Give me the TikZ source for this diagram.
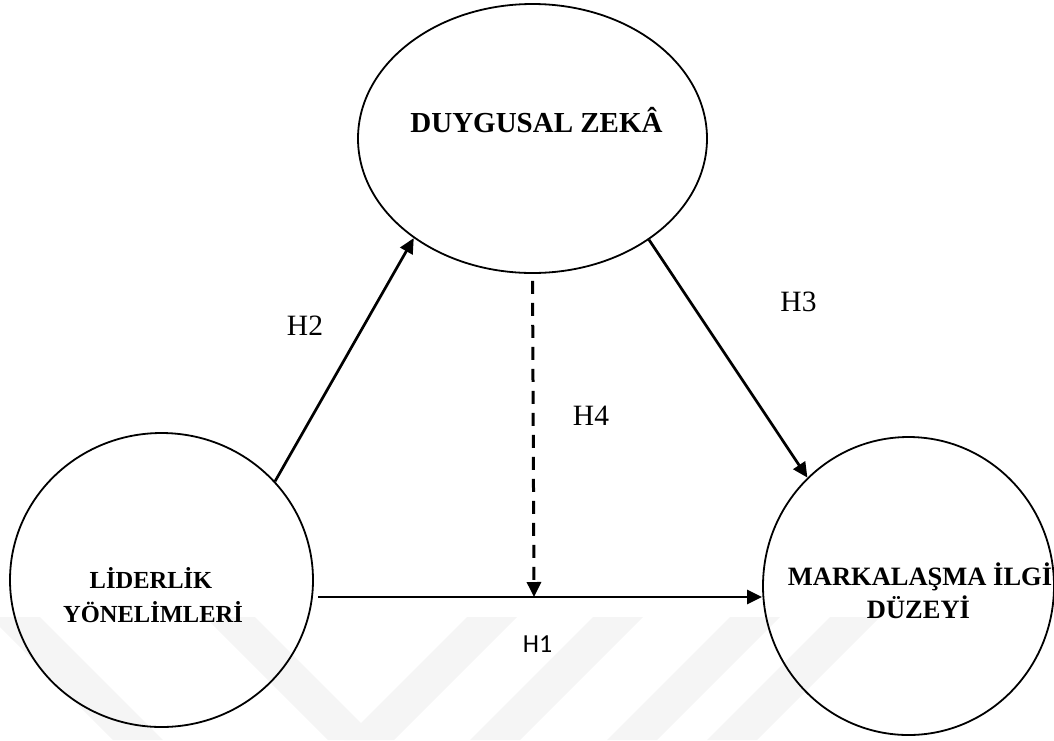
\documentclass[tikz,border=0pt]{standalone}
\usepackage{fontspec}
\setmainfont{Liberation Serif}
\newfontfamily\calibrilike{Carlito}
\usetikzlibrary{shapes.geometric,arrows.meta}

\begin{document}
\begin{tikzpicture}[x=1pt,y=-1pt,
  construct/.style={draw, line width=1.8pt, ellipse, inner sep=0pt},
  cname/.style={font=\bfseries\fontsize{#1}{#1}\selectfont, anchor=base, inner sep=0pt},
  hyp/.style={font=\fontsize{29.5}{30}\selectfont, anchor=base, inner sep=0pt},
  link/.style={line width=2.7pt, -{Triangle[length=15pt,width=14pt]}},
  moderation/.style={link, line width=3pt, dash pattern=on 13pt off 9pt},
  wm/.style={fill=black!4, draw=none}]

\useasboundingbox (0,0) rectangle (1054,740);

% faint background logo bands
\fill[wm] (-10,617) -- (40,617) -- (163,740) -- (113,740) -- cycle;
\fill[wm] (205,617) -- (255,617) -- (378,740) -- (328,740) -- cycle;
\fill[wm] (467,617) -- (517,617) -- (394,740) -- (344,740) -- cycle;
\fill[wm] (593,617) -- (643,617) -- (520,740) -- (470,740) -- cycle;
\fill[wm] (730,617) -- (780,617) -- (657,740) -- (607,740) -- cycle;
\fill[wm] (830,617) -- (880,617) -- (757,740) -- (707,740) -- cycle;

% constructs
\node[construct, minimum width=349pt, minimum height=269pt] (dz) at (532.5,138.5) {};
\node[construct, minimum width=303pt, minimum height=294pt] (lv) at (161.5,580) {};
\node[construct, minimum width=291pt, minimum height=298pt] (mz) at (908.5,586) {};

\node[cname=29] (dzt) at (536.5,132) {DUYGUSAL ZEKÂ};
\node[cname=24.5] (lvt1) at (151,588) {LİDERLİK};
\node[cname=24.5] (lvt2) at (153,622) {YÖNELİMLERİ};
\node[cname=26.5] (mzt1) at (920,585) {MARKALAŞMA İLGİ};
\node[cname=26.5] (mzt2) at (918.5,618) {DÜZEYİ};

% hypothesised paths
\coordinate (h1s) at (318,597);
\coordinate (h1m) at (534,597);
\draw[link] (lv.41.9) -- (dz.220.5);
\draw[link] (dz.-41.6) -- (mz.133.8);
\draw[link] (h1s) -- (h1s -| mz.west);
\draw[moderation, shorten <=7pt] (dz.south) -- (h1m);

\node[hyp] (h2) at (305,335) {H2};
\node[hyp] (h3) at (798.5,311) {H3};
\node[hyp] (h4) at (591,425) {H4};
\node[hyp, font=\calibrilike\fontsize{26}{26}\selectfont] (h1) at (537.5,652) {H1};
\end{tikzpicture}
\end{document}
